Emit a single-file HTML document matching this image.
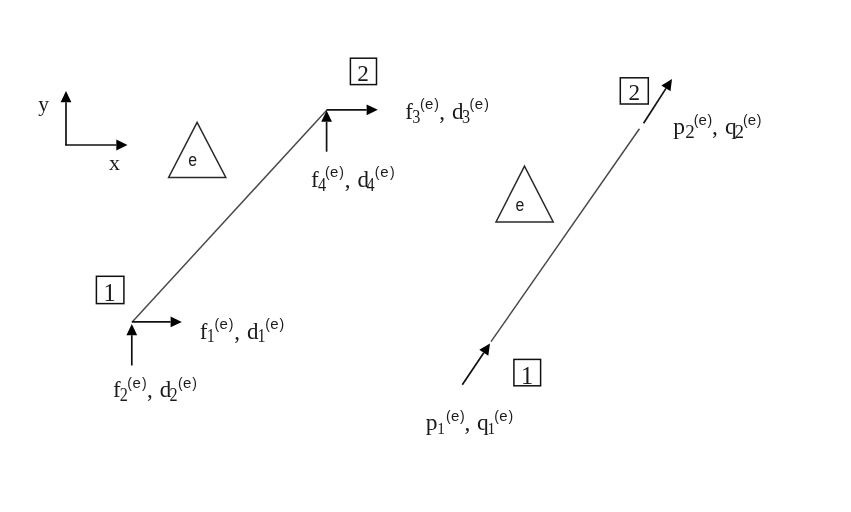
<!DOCTYPE html>
<html><head><meta charset="utf-8"><title>Element diagram</title>
<style>
html,body{margin:0;padding:0;background:#fff;}
body{width:851px;height:512px;overflow:hidden;font-family:"Liberation Serif",serif;}
svg{display:block;will-change:transform;}
text{fill:#1a1a1a;}
</style></head>
<body>
<svg width="851" height="512" viewBox="0 0 851 512">
<rect x="0" y="0" width="851" height="512" fill="#ffffff"/>
<line x1="66.0" y1="145.6" x2="66.0" y2="102.2" stroke="#111" stroke-width="1.7"/>
<polygon points="66.0,91.0 71.4,102.2 60.6,102.2" fill="#000"/>
<line x1="65.3" y1="145.0" x2="116.3" y2="145.0" stroke="#111" stroke-width="1.7"/>
<polygon points="127.5,145.0 116.3,150.4 116.3,139.6" fill="#000"/>
<text x="38.2" y="111.3" font-family="Liberation Serif, serif" font-size="21.5">y</text>
<text x="109" y="170" font-family="Liberation Serif, serif" font-size="22">x</text>
<polygon points="197.1,122.4 168.6,177.5 225.8,177.5" fill="none" stroke="#2a2a2a" stroke-width="1.5"/>
<text x="188.3" y="166.4" font-family="Liberation Sans, sans-serif" font-size="17.5" textLength="8.8" lengthAdjust="spacingAndGlyphs">e</text>
<polygon points="524.5,166.2 496,221.9 553.2,221.9" fill="none" stroke="#2a2a2a" stroke-width="1.5"/>
<text x="515.6" y="210.5" font-family="Liberation Sans, sans-serif" font-size="17.5" textLength="8.8" lengthAdjust="spacingAndGlyphs">e</text>
<line x1="132.2" y1="322" x2="326.9" y2="109.9" stroke="#484848" stroke-width="1.45"/>
<line x1="131.8" y1="321.9" x2="170.6" y2="321.9" stroke="#111" stroke-width="1.7"/>
<polygon points="181.8,321.9 170.6,327.3 170.6,316.5" fill="#000"/>
<line x1="131.8" y1="365.5" x2="131.8" y2="335.2" stroke="#111" stroke-width="1.7"/>
<polygon points="131.8,324.0 137.2,335.2 126.4,335.2" fill="#000"/>
<line x1="326.6" y1="109.8" x2="366.6" y2="109.8" stroke="#111" stroke-width="1.7"/>
<polygon points="377.8,109.8 366.6,115.2 366.6,104.4" fill="#000"/>
<line x1="326.6" y1="151.7" x2="326.6" y2="121.8" stroke="#111" stroke-width="1.7"/>
<polygon points="326.6,110.6 332.0,121.8 321.2,121.8" fill="#000"/>
<line x1="491.0" y1="341.7" x2="639.4" y2="128.75" stroke="#484848" stroke-width="1.45"/>
<line x1="462.3" y1="384.8" x2="483.8" y2="352.7" stroke="#111" stroke-width="1.7"/>
<polygon points="490.0,343.4 488.3,355.7 479.3,349.7" fill="#000"/>
<line x1="643.6" y1="123.3" x2="666.0" y2="88.4" stroke="#111" stroke-width="1.7"/>
<polygon points="672.0,79.0 670.5,91.3 661.4,85.5" fill="#000"/>
<rect x="96.4" y="276.3" width="27.5" height="27.3" fill="none" stroke="#111" stroke-width="1.5"/>
<text x="109.7" y="301.0" text-anchor="middle" font-family="Liberation Serif, serif" font-size="24.3">1</text>
<rect x="350.4" y="58.2" width="26.1" height="26.4" fill="none" stroke="#111" stroke-width="1.5"/>
<text x="363.0" y="81.0" text-anchor="middle" font-family="Liberation Serif, serif" font-size="23.2">2</text>
<rect x="513.9" y="359.4" width="26.7" height="26.4" fill="none" stroke="#111" stroke-width="1.5"/>
<text x="527.0" y="383.7" text-anchor="middle" font-family="Liberation Serif, serif" font-size="24.3">1</text>
<rect x="620.3" y="77.8" width="28.0" height="26.2" fill="none" stroke="#111" stroke-width="1.5"/>
<text x="634.3" y="100.3" text-anchor="middle" font-family="Liberation Serif, serif" font-size="23.2">2</text>
<text x="405.3" y="118.8" font-family="Liberation Serif, serif" font-size="23">f</text>
<text x="412.3" y="122.7" font-family="Liberation Serif, serif" font-size="19.5" textLength="8.09" lengthAdjust="spacingAndGlyphs">3</text>
<text x="420.00" y="109.2" font-family="Liberation Sans, sans-serif" font-size="14">(</text><text x="425.00" y="109.2" font-family="Liberation Sans, sans-serif" font-size="15">e</text><text x="434.20" y="109.2" font-family="Liberation Sans, sans-serif" font-size="14">)</text>
<text x="439.2" y="118.8" font-family="Liberation Serif, serif" font-size="23">,</text>
<text x="451.9" y="118.8" font-family="Liberation Serif, serif" font-size="23">d</text>
<text x="461.9" y="122.7" font-family="Liberation Serif, serif" font-size="19.5" textLength="8.09" lengthAdjust="spacingAndGlyphs">3</text>
<text x="469.40" y="109.2" font-family="Liberation Sans, sans-serif" font-size="14">(</text><text x="474.70" y="109.2" font-family="Liberation Sans, sans-serif" font-size="15">e</text><text x="484.20" y="109.2" font-family="Liberation Sans, sans-serif" font-size="14">)</text>
<text x="310.9" y="186.7" font-family="Liberation Serif, serif" font-size="23">f</text>
<text x="317.9" y="190.6" font-family="Liberation Serif, serif" font-size="19.5" textLength="8.09" lengthAdjust="spacingAndGlyphs">4</text>
<text x="325.10" y="177.1" font-family="Liberation Sans, sans-serif" font-size="14">(</text><text x="330.10" y="177.1" font-family="Liberation Sans, sans-serif" font-size="15">e</text><text x="339.30" y="177.1" font-family="Liberation Sans, sans-serif" font-size="14">)</text>
<text x="344.8" y="186.7" font-family="Liberation Serif, serif" font-size="23">,</text>
<text x="357.5" y="186.7" font-family="Liberation Serif, serif" font-size="23">d</text>
<text x="366.5" y="190.6" font-family="Liberation Serif, serif" font-size="19.5" textLength="8.09" lengthAdjust="spacingAndGlyphs">4</text>
<text x="374.70" y="177.1" font-family="Liberation Sans, sans-serif" font-size="14">(</text><text x="380.20" y="177.1" font-family="Liberation Sans, sans-serif" font-size="15">e</text><text x="389.90" y="177.1" font-family="Liberation Sans, sans-serif" font-size="14">)</text>
<text x="199.8" y="339.0" font-family="Liberation Serif, serif" font-size="23">f</text>
<text x="206.7" y="342.4" font-family="Liberation Serif, serif" font-size="19.5" textLength="8.09" lengthAdjust="spacingAndGlyphs">1</text>
<text x="214.50" y="329.4" font-family="Liberation Sans, sans-serif" font-size="14">(</text><text x="219.50" y="329.4" font-family="Liberation Sans, sans-serif" font-size="15">e</text><text x="228.70" y="329.4" font-family="Liberation Sans, sans-serif" font-size="14">)</text>
<text x="234.2" y="339.0" font-family="Liberation Serif, serif" font-size="23">,</text>
<text x="246.9" y="339.0" font-family="Liberation Serif, serif" font-size="23">d</text>
<text x="257.5" y="342.4" font-family="Liberation Serif, serif" font-size="19.5" textLength="8.09" lengthAdjust="spacingAndGlyphs">1</text>
<text x="265.20" y="329.4" font-family="Liberation Sans, sans-serif" font-size="14">(</text><text x="270.20" y="329.4" font-family="Liberation Sans, sans-serif" font-size="15">e</text><text x="279.40" y="329.4" font-family="Liberation Sans, sans-serif" font-size="14">)</text>
<text x="112.9" y="397.3" font-family="Liberation Serif, serif" font-size="23">f</text>
<text x="119.7" y="401.2" font-family="Liberation Serif, serif" font-size="19.5" textLength="8.09" lengthAdjust="spacingAndGlyphs">2</text>
<text x="127.20" y="387.7" font-family="Liberation Sans, sans-serif" font-size="14">(</text><text x="132.50" y="387.7" font-family="Liberation Sans, sans-serif" font-size="15">e</text><text x="142.00" y="387.7" font-family="Liberation Sans, sans-serif" font-size="14">)</text>
<text x="147.1" y="397.3" font-family="Liberation Serif, serif" font-size="23">,</text>
<text x="159.8" y="397.3" font-family="Liberation Serif, serif" font-size="23">d</text>
<text x="169.5" y="401.2" font-family="Liberation Serif, serif" font-size="19.5" textLength="8.09" lengthAdjust="spacingAndGlyphs">2</text>
<text x="178.10" y="387.7" font-family="Liberation Sans, sans-serif" font-size="14">(</text><text x="183.10" y="387.7" font-family="Liberation Sans, sans-serif" font-size="15">e</text><text x="192.30" y="387.7" font-family="Liberation Sans, sans-serif" font-size="14">)</text>
<text x="425.7" y="430.4" font-family="Liberation Serif, serif" font-size="23.5">p</text>
<text x="437.2" y="434.2" font-family="Liberation Serif, serif" font-size="17" textLength="7.65" lengthAdjust="spacingAndGlyphs">1</text>
<text x="445.90" y="420.6" font-family="Liberation Sans, sans-serif" font-size="14">(</text><text x="450.90" y="420.6" font-family="Liberation Sans, sans-serif" font-size="15">e</text><text x="460.10" y="420.6" font-family="Liberation Sans, sans-serif" font-size="14">)</text>
<text x="464.4" y="430.4" font-family="Liberation Serif, serif" font-size="23.5">,</text>
<text x="477.0" y="430.4" font-family="Liberation Serif, serif" font-size="23.5">q</text>
<text x="487.5" y="434.2" font-family="Liberation Serif, serif" font-size="17" textLength="7.65" lengthAdjust="spacingAndGlyphs">1</text>
<text x="494.20" y="420.6" font-family="Liberation Sans, sans-serif" font-size="14">(</text><text x="499.20" y="420.6" font-family="Liberation Sans, sans-serif" font-size="15">e</text><text x="508.40" y="420.6" font-family="Liberation Sans, sans-serif" font-size="14">)</text>
<text x="673.3" y="134.1" font-family="Liberation Serif, serif" font-size="23.5">p</text>
<text x="685.2" y="137.7" font-family="Liberation Serif, serif" font-size="19" >2</text>
<text x="693.75" y="125.3" font-family="Liberation Sans, sans-serif" font-size="14">(</text><text x="698.50" y="125.3" font-family="Liberation Sans, sans-serif" font-size="15">e</text><text x="707.45" y="125.3" font-family="Liberation Sans, sans-serif" font-size="14">)</text>
<text x="712.0" y="134.1" font-family="Liberation Serif, serif" font-size="23.5">,</text>
<text x="725.0" y="134.1" font-family="Liberation Serif, serif" font-size="23.5">q</text>
<text x="734.6" y="137.7" font-family="Liberation Serif, serif" font-size="19" >2</text>
<text x="743.10" y="125.3" font-family="Liberation Sans, sans-serif" font-size="14">(</text><text x="747.80" y="125.3" font-family="Liberation Sans, sans-serif" font-size="15">e</text><text x="756.70" y="125.3" font-family="Liberation Sans, sans-serif" font-size="14">)</text>
</svg>
</body></html>
